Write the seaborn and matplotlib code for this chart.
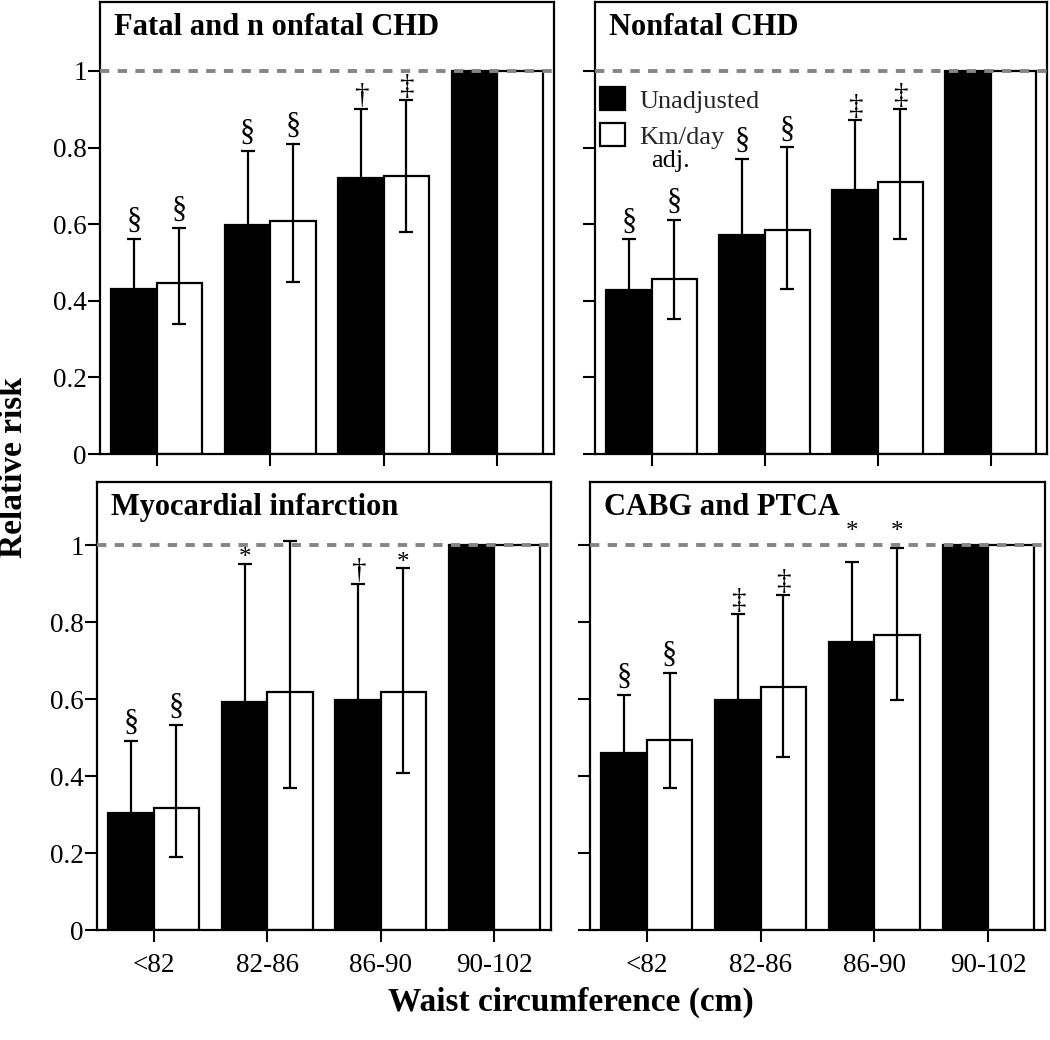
import numpy as np
import pandas as pd
import matplotlib
matplotlib.use("Agg")
import matplotlib.pyplot as plt
import seaborn as sns
from matplotlib.patches import Patch

# ---------------- data ----------------
categories = ["<82", "82-86", "86-90", "90-102"]
models = ["Unadjusted", "Km/day adj."]
panel_titles = ["Fatal and n onfatal CHD", "Nonfatal CHD",
                "Myocardial infarction", "CABG and PTCA"]

# Fatal and nonfatal CHD
fatal_unadj = [0.432, 0.597, 0.721, 1.0]
fatal_unadj_lo = [0.33, 0.45, 0.58, np.nan]
fatal_unadj_hi = [0.562, 0.792, 0.900, np.nan]
fatal_adj = [0.447, 0.608, 0.725, 1.0]
fatal_adj_lo = [0.339, 0.449, 0.580, np.nan]
fatal_adj_hi = [0.591, 0.810, 0.924, np.nan]
fatal_unadj_sig = ["§", "§", "†", ""]
fatal_adj_sig = ["§", "§", "‡", ""]

# Nonfatal CHD
nonfatal_unadj = [0.428, 0.571, 0.688, 1.0]
nonfatal_unadj_lo = [0.33, 0.42, 0.54, np.nan]
nonfatal_unadj_hi = [0.560, 0.771, 0.873, np.nan]
nonfatal_adj = [0.458, 0.586, 0.710, 1.0]
nonfatal_adj_lo = [0.353, 0.431, 0.560, np.nan]
nonfatal_adj_hi = [0.612, 0.801, 0.901, np.nan]
nonfatal_unadj_sig = ["§", "§", "‡", ""]
nonfatal_adj_sig = ["§", "§", "‡", ""]

# Myocardial infarction
mi_unadj = [0.303, 0.592, 0.597, 1.0]
mi_unadj_lo = [0.19, 0.37, 0.40, np.nan]
mi_unadj_hi = [0.492, 0.953, 0.900, np.nan]
mi_adj = [0.318, 0.619, 0.619, 1.0]
mi_adj_lo = [0.190, 0.368, 0.408, np.nan]
mi_adj_hi = [0.534, 1.012, 0.941, np.nan]
mi_unadj_sig = ["§", "*", "†", ""]
mi_adj_sig = ["§", "", "*", ""]

# CABG and PTCA
cabg_unadj = [0.461, 0.597, 0.750, 1.0]
cabg_unadj_lo = [0.35, 0.43, 0.59, np.nan]
cabg_unadj_hi = [0.611, 0.823, 0.958, np.nan]
cabg_adj = [0.495, 0.632, 0.768, 1.0]
cabg_adj_lo = [0.368, 0.450, 0.597, np.nan]
cabg_adj_hi = [0.669, 0.870, 0.993, np.nan]
cabg_unadj_sig = ["§", "‡", "*", ""]
cabg_adj_sig = ["§", "‡", "*", ""]

panels = [
    (fatal_unadj, fatal_unadj_lo, fatal_unadj_hi, fatal_unadj_sig,
     fatal_adj, fatal_adj_lo, fatal_adj_hi, fatal_adj_sig),
    (nonfatal_unadj, nonfatal_unadj_lo, nonfatal_unadj_hi, nonfatal_unadj_sig,
     nonfatal_adj, nonfatal_adj_lo, nonfatal_adj_hi, nonfatal_adj_sig),
    (mi_unadj, mi_unadj_lo, mi_unadj_hi, mi_unadj_sig,
     mi_adj, mi_adj_lo, mi_adj_hi, mi_adj_sig),
    (cabg_unadj, cabg_unadj_lo, cabg_unadj_hi, cabg_unadj_sig,
     cabg_adj, cabg_adj_lo, cabg_adj_hi, cabg_adj_sig),
]

# ---------------- style ----------------
sns.set_theme(style="ticks")
plt.rcParams["font.family"] = ["Liberation Serif", "DejaVu Serif"]
plt.rcParams["axes.linewidth"] = 1.6
plt.rcParams["axes.edgecolor"] = "black"

W, H = 1050, 1040
fig = plt.figure(figsize=(W / 100, H / 100), dpi=100)

# axes rectangles in pixels: left, right, top, bottom
rects = [(100, 554, 2, 454), (595, 1047, 2, 454),
         (97, 551, 482, 930), (590, 1045, 482, 930)]
ytops = [1.18, 1.18, 1.165, 1.165]
# a symbol whose whisker reaches this close to the reference line goes above it
LINE_CLEAR = 0.955

for i, (rect, vals) in enumerate(zip(rects, panels)):
    l, r, t, b = rect
    ax = fig.add_axes([l / W, 1 - b / H, (r - l) / W, (b - t) / H])
    u, ulo, uhi, usig, a, alo, ahi, asig = vals
    df = pd.DataFrame({
        "waist": categories * 2,
        "model": [models[0]] * 4 + [models[1]] * 4,
        "rr": list(u) + list(a),
    })
    sns.barplot(data=df, x="waist", y="rr", hue="model", order=categories,
                hue_order=models, palette=["black", "white"], saturation=1,
                edgecolor="black", linewidth=1.6, width=0.8, gap=0,
                errorbar=None, legend=False, ax=ax, zorder=2)

    for cont, v, lo, hi, sig in zip(ax.containers[:2], [u, a], [ulo, alo],
                                    [uhi, ahi], [usig, asig]):
        for bar, val, lw_, hw_, s in zip(cont, v, lo, hi, sig):
            xc = bar.get_x() + bar.get_width() / 2
            if not np.isnan(hw_):
                ax.errorbar([xc], [val], yerr=[[val - lw_], [hw_ - val]],
                            fmt="none", ecolor="black", elinewidth=1.6,
                            capsize=4.8, capthick=1.6, zorder=3)
            if s:
                if s == "*":
                    fs, off = 18, -4
                elif s == "§":
                    fs, off = 22, 2
                else:
                    fs, off = 21, 0
                ybase = hw_
                if s == "*" and hw_ > LINE_CLEAR:
                    ybase, off = 1.0, 2
                ax.annotate(s, (xc, ybase), xytext=(0, off),
                            textcoords="offset points", ha="center",
                            va="bottom", fontsize=fs, color="black")

    ax.axhline(1.0, color="#858585", lw=2.8, ls=(0, (2.4, 2.15)), zorder=4)

    ax.set_xlim(-0.5, 3.5)
    ax.set_ylim(0, ytops[i])
    ax.set_yticks([0, 0.2, 0.4, 0.6, 0.8, 1.0])
    ax.set_xlabel("")
    ax.set_ylabel("")
    for sp in ax.spines.values():
        sp.set_visible(True)
        sp.set_linewidth(1.6)
        sp.set_color("black")
    ax.tick_params(axis="both", direction="out", length=8.6, width=1.5,
                   colors="black", labelsize=19.5)
    ax.tick_params(axis="y", pad=1)
    ax.tick_params(axis="x", pad=8)
    if i % 2 == 0:
        ax.set_yticklabels(["0", "0.2", "0.4", "0.6", "0.8", "1"])
    else:
        ax.set_yticklabels([])
    if i < 2:
        ax.set_xticklabels([])
    else:
        ax.set_xticks(range(4))
        ax.set_xticklabels(categories)

    ax.text(0.031, 1 - 33 / (b - t), panel_titles[i], transform=ax.transAxes,
            ha="left", va="baseline", fontsize=22, fontweight="bold",
            color="black")

    if i == 1:
        handles = [Patch(facecolor="black", edgecolor="black", lw=1.6),
                   Patch(facecolor="white", edgecolor="black", lw=1.6)]
        ax.legend(handles, ["Unadjusted", "Km/day"], loc="upper left",
                  bbox_to_anchor=(0.011, 0.811), borderaxespad=0, borderpad=0,
                  frameon=False, fontsize=19, handlelength=0.95,
                  handleheight=0.95, handletextpad=0.55, labelspacing=0.4)
        ax.text(0.168, 0.648, "adj.", transform=ax.transAxes, ha="center",
                va="center", fontsize=19, color="black")

fig.text(14 / W, 1 - 468 / H, "Relative risk", rotation=90, ha="center",
         va="center", fontsize=24, fontweight="bold", color="black")
fig.text(571 / W, 1 - 1002 / H, "Waist circumference (cm)", ha="center",
         va="center", fontsize=24, fontweight="bold", color="black")

fig.savefig("out.png", dpi=100, facecolor="white")
